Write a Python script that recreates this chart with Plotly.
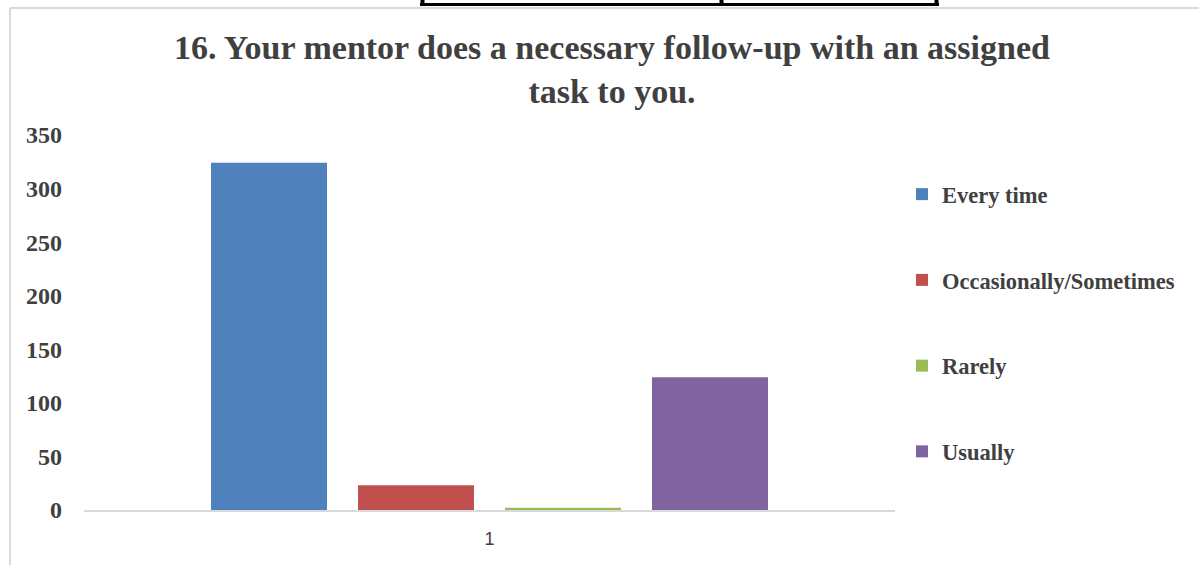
import plotly.graph_objects as go

categories = ["1"]
series_names = ["Every time", "Occasionally/Sometimes", "Rarely", "Usually"]
series_values = [324, 23, 2, 124]
series_colors = ["#4F81BD", "#C0504D", "#9BBB59", "#8064A2"]
y_ticks = [0, 50, 100, 150, 200, 250, 300, 350]

W, H = 1199, 565
L, R, T, B = 84, 895, 135, 510

def px(xp):
    return (xp - L) / (R - L)

def py(yp):
    return (B - yp) / (B - T)

fig = go.Figure()
for i, (n, v, c) in enumerate(zip(series_names, series_values, series_colors)):
    fig.add_trace(go.Bar(x=categories, y=[v], name=f"<b>{n}</b>",
                         marker=dict(color=c, line=dict(width=0)),
                         legendgroup=f"g{i}"))

serif = "Liberation Serif, Times New Roman, serif"
txt = "#404040"

shapes = []
# outer chart-area border (light gray)
shapes.append(dict(type="line", xref="paper", yref="paper", x0=px(10), x1=px(10), y0=py(8), y1=py(H + 5),
                   line=dict(color="#d9d9d9", width=2)))
shapes.append(dict(type="line", xref="paper", yref="paper", x0=px(10), x1=px(W + 5), y0=py(8), y1=py(8),
                   line=dict(color="#d9d9d9", width=2)))
# black table box at top
shapes.append(dict(type="line", xref="paper", yref="paper", x0=px(420), x1=px(939), y0=py(4.5), y1=py(4.5),
                   line=dict(color="#000000", width=3)))
for xv in [422.5, 721.5, 936.5]:
    shapes.append(dict(type="line", xref="paper", yref="paper", x0=px(xv), x1=px(xv), y0=py(-2), y1=py(6),
                       line=dict(color="#000000", width=4)))

fig.update_layout(
    width=W, height=H,
    margin=dict(l=L, r=W - R, t=T, b=H - B, pad=0),
    paper_bgcolor="white", plot_bgcolor="white",
    barmode="group", bargap=0.275, bargroupgap=0.211,
    title=dict(text="<b>16. Your mentor does a necessary follow-up with an assigned<br>task to you.</b>",
               font=dict(family=serif, size=34, color=txt),
               x=612 / W, xanchor="center", xref="container",
               y=1 - 59 / H, yanchor="top", yref="container"),
    xaxis=dict(showline=True, linecolor="#d9d9d9", linewidth=2, showgrid=False, zeroline=False,
               ticks="", tickfont=dict(family="Liberation Sans, Arial, sans-serif", size=18, color=txt),
               ticklabelstandoff=11, fixedrange=True),
    yaxis=dict(range=[0, 350], tickvals=y_ticks, showgrid=False, zeroline=False, showline=False,
               ticks="", tickfont=dict(family=serif, size=24, color=txt, weight="bold"),
               ticklabelstandoff=21, fixedrange=True),
    legend=dict(x=px(902), xanchor="left", y=py(173), yanchor="top",
                font=dict(family=serif, size=22.5, color=txt),
                tracegroupgap=53.5, itemclick=False, bgcolor="rgba(0,0,0,0)"),
    shapes=shapes,
    showlegend=True,
)

fig.write_html("out.html", config=dict(displayModeBar=False),
               post_script="document.body.style.margin='0';document.body.style.overflow='hidden';")
